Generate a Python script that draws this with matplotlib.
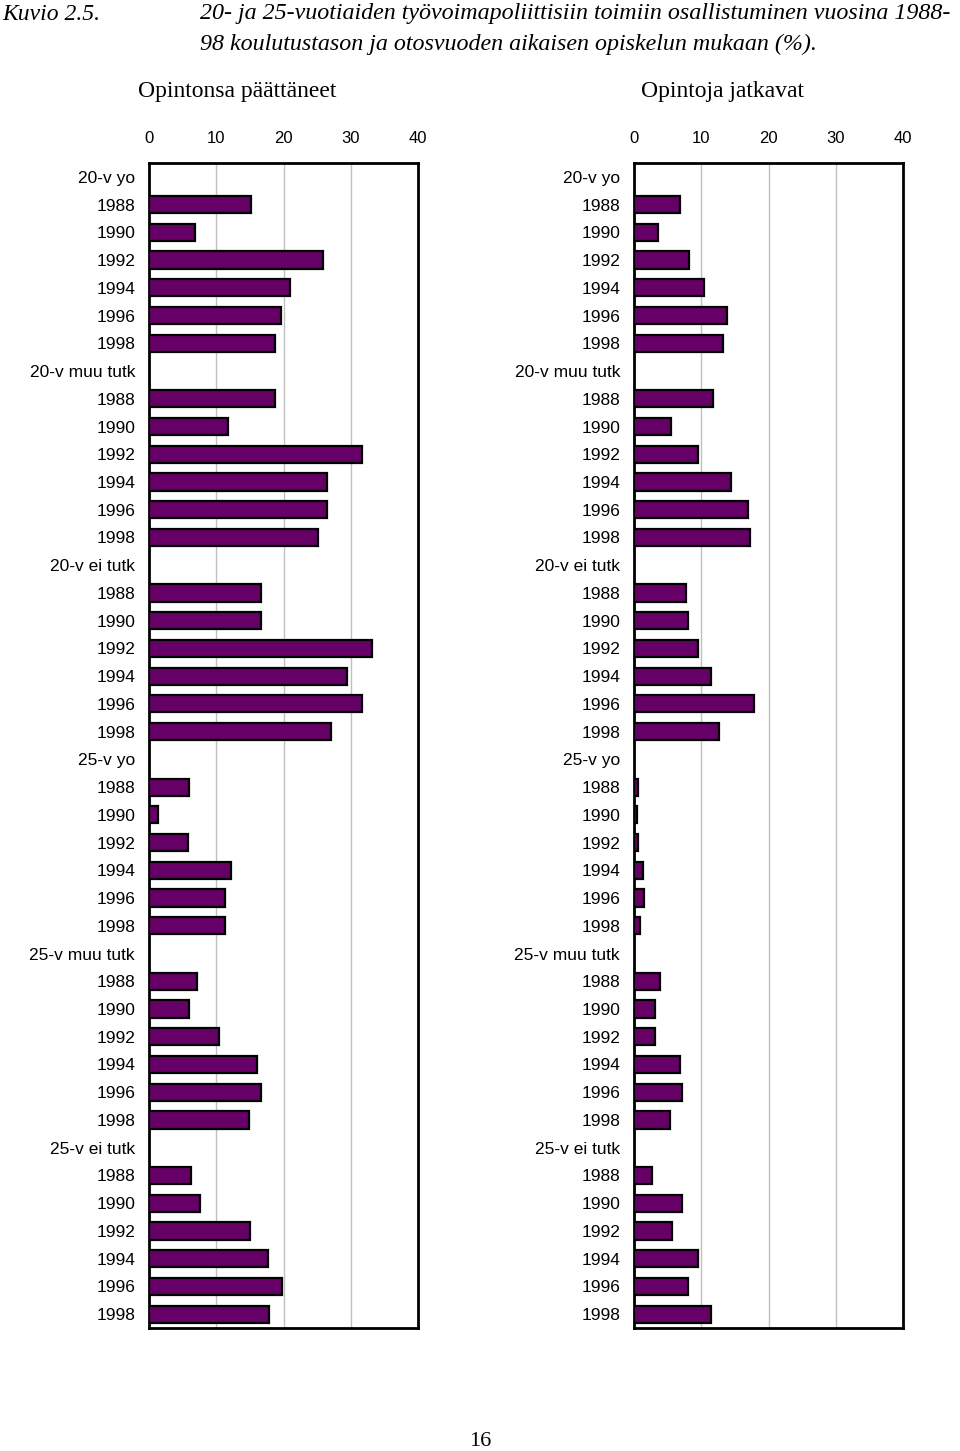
import numpy as np
import matplotlib.pyplot as plt

groups = ["20-v yo", "20-v muu tutk", "20-v ei tutk", "25-v yo", "25-v muu tutk", "25-v ei tutk"]
years = ["1988", "1990", "1992", "1994", "1996", "1998"]

# Opintonsa päättäneet
paattaneet = [
    [15.2, 6.8, 25.9, 21.0, 19.6, 18.8],
    [18.8, 11.7, 31.7, 26.4, 26.5, 25.2],
    [16.7, 16.7, 33.1, 29.5, 31.7, 27.0],
    [5.9, 1.4, 5.8, 12.2, 11.3, 11.3],
    [7.2, 5.9, 10.4, 16.0, 16.7, 14.8],
    [6.3, 7.6, 15.0, 17.7, 19.8, 17.9],
]
# Opintoja jatkavat
jatkavat = [
    [6.8, 3.5, 8.2, 10.4, 13.8, 13.2],
    [11.7, 5.5, 9.5, 14.4, 16.9, 17.3],
    [7.8, 8.0, 9.5, 11.4, 17.9, 12.7],
    [0.6, 0.4, 0.55, 1.3, 1.5, 0.95],
    [3.8, 3.1, 3.1, 6.8, 7.1, 5.3],
    [2.7, 7.2, 5.7, 9.5, 8.0, 11.4],
]
panel_titles = ["Opintonsa päättäneet", "Opintoja jatkavat"]
xticks = [0, 10, 20, 30, 40]

# row labels: group header followed by its years
labels = []
for g in groups:
    labels.append(g)
    labels.extend(years)


def bar_rows(data):
    pos, vals = [], []
    r = 0
    for gvals in data:
        r += 1  # header row
        for v in gvals:
            pos.append(r)
            vals.append(v)
            r += 1
    return pos, vals


fig = plt.figure(figsize=(9.6, 14.51), dpi=100)
sans = "Liberation Sans"
serif = "Liberation Serif"

lefts = [149 / 960, 634 / 960]
for i, data in enumerate([paattaneet, jatkavat]):
    ax = fig.add_axes([lefts[i], 1 - 1328 / 1451, 269 / 960, (1328 - 163) / 1451])
    pos, vals = bar_rows(data)
    ax.barh(pos, vals, height=0.62, color="#660066", edgecolor="black",
            linewidth=1.6, zorder=3)
    ax.set_xlim(0, 40)
    ax.set_ylim(len(labels) - 0.5, -0.5)
    ax.set_xticks(xticks)
    ax.set_xticklabels([str(t) for t in xticks], fontfamily=sans, fontsize=12)
    ax.xaxis.tick_top()
    ax.set_yticks(range(len(labels)))
    ax.set_yticklabels(labels, fontfamily=sans, fontsize=12.5)
    ax.tick_params(axis="x", length=0, pad=12)
    ax.tick_params(axis="y", length=0, pad=10)
    ax.grid(axis="x", color="#c0c0c0", linewidth=1.0, zorder=0)
    for s in ax.spines.values():
        s.set_linewidth(2)
        s.set_color("black")
    cx = lefts[i] + (269 / 960) / 2 - 46 / 960
    fig.text(cx, 1 - 92 / 1451, panel_titles[i], ha="center", va="center",
             fontfamily=serif, fontsize=17)

fig.text(2 / 960, 1 - 14 / 1451, "Kuvio 2.5.", ha="left", va="center",
         fontfamily=serif, fontstyle="italic", fontsize=17)
fig.text(200 / 960, 1 - 14 / 1451,
         "20- ja 25-vuotiaiden työvoimapoliittisiin toimiin osallistuminen vuosina 1988-",
         ha="left", va="center", fontfamily=serif, fontstyle="italic", fontsize=17.3)
fig.text(200 / 960, 1 - 44 / 1451,
         "98 koulutustason ja otosvuoden aikaisen opiskelun mukaan (%).",
         ha="left", va="center", fontfamily=serif, fontstyle="italic", fontsize=17.3)
fig.text(480 / 960, 1 - 1441 / 1451, "16", ha="center", va="center",
         fontfamily=serif, fontsize=16)

fig.savefig("out.png", dpi=100)
